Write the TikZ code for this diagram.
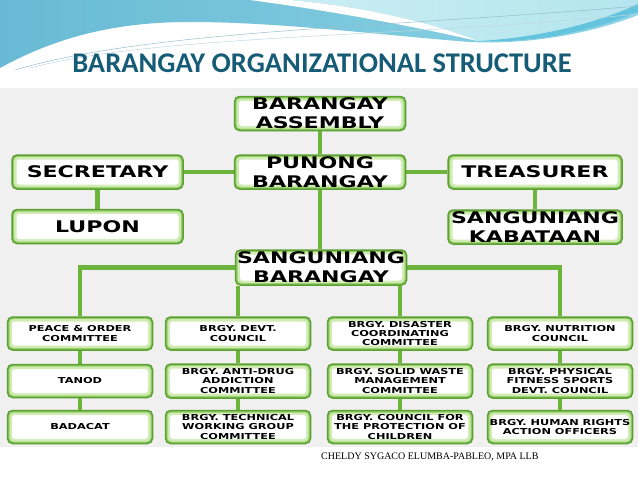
\documentclass[tikz,border=0pt]{standalone}
\usepackage{fontspec}
\newfontfamily\boxfont{DejaVu Sans}[FakeStretch=1.38]
\newfontfamily\titlefont{Carlito}
\newfontfamily\footfont{Liberation Serif}
\definecolor{linegreen}{RGB}{108,180,60}
\definecolor{bordergreen}{RGB}{92,160,50}
\definecolor{glowA}{RGB}{150,205,105}
\definecolor{glowB}{RGB}{208,236,180}
\definecolor{titleblue}{RGB}{22,92,118}
\definecolor{panelgray}{RGB}{240,240,240}
\definecolor{skyblue}{RGB}{104,186,212}
\definecolor{skylight}{RGB}{140,212,230}
\definecolor{skypale}{RGB}{180,229,238}
\definecolor{skymid}{RGB}{100,196,222}
\definecolor{skyline}{RGB}{150,190,205}
\pgfdeclarelayer{bg}
\pgfdeclarelayer{links}
\pgfsetlayers{bg,links,main}
\tikzset{
  box/.style={draw=bordergreen, line width=1.5pt, rounded corners=5pt, fill=glowA,
    inner sep=0pt, align=center, text=black,
    path picture={
      \fill[glowB, rounded corners=4pt]
        ([shift={(2pt,2pt)}]path picture bounding box.south west) rectangle
        ([shift={(-2pt,-2pt)}]path picture bounding box.north east);
      \fill[white, rounded corners=3pt]
        ([shift={(4.5pt,4.5pt)}]path picture bounding box.south west) rectangle
        ([shift={(-4.5pt,-4.5pt)}]path picture bounding box.north east);
    }},
  bigbox/.style={box, minimum width=171pt, minimum height=34pt,
    font=\boxfont\bfseries\fontsize{16}{19}\selectfont},
  smallbox/.style={box, minimum width=145pt, minimum height=33pt,
    font=\boxfont\bfseries\fontsize{8.2}{9.3}\selectfont},
  link/.style={draw=linegreen, line width=4.5pt},
}
\begin{document}
\begin{tikzpicture}[x=1pt,y=-1pt]
\useasboundingbox (0,0) rectangle (638,479);
\begin{pgfonlayer}{bg}
  \fill[white] (0,0) rectangle (638,479);
  \fill[panelgray] (0,88) rectangle (638,447);
  % sky
  \shade[left color=skyblue, right color=skylight]
    (0,0) -- (638,0) -- (638,15) .. controls (600,30) and (540,45) .. (470,42)
    .. controls (380,35) and (280,22) .. (190,22)
    .. controls (120,22) and (60,35) .. (0,68) -- cycle;
  \shade[left color=skypale!70!white, right color=skypale]
    (290,0) .. controls (360,6) and (430,22) .. (478,41)
    .. controls (540,44) and (600,28) .. (638,12) -- (638,0) -- cycle;
  \fill[skymid] (478,41) .. controls (540,44) and (600,28) .. (638,12)
    -- (638,4) .. controls (600,22) and (540,38) .. (478,41) -- cycle;
  \fill[white] (250,0) .. controls (340,12) and (420,28) .. (478,41)
    .. controls (430,22) and (360,6) .. (290,0) -- cycle;
  \draw[skyline, line width=0.5pt] (15,70) .. controls (150,30) and (380,28) .. (638,6);
  \draw[skyline!60!white, line width=0.5pt] (30,68) .. controls (160,34) and (400,38) .. (638,14);
\end{pgfonlayer}

\node[font=\titlefont\bfseries\fontsize{28.5}{32}\selectfont, text=titleblue] (title) at (322,63) {BARANGAY ORGANIZATIONAL STRUCTURE};

\node[bigbox] (asm) at (320,113.5) {BARANGAY\\ASSEMBLY};
\node[bigbox] (pun) at (320,172) {PUNONG\\BARANGAY};
\node[bigbox] (sec) at (97.5,172) {SECRETARY};
\node[bigbox] (lup) at (97.5,226.5) {LUPON};
\node[bigbox, minimum width=174pt] (tre) at (535,172) {TREASURER};
\node[bigbox, minimum width=174pt] (sk) at (535,227) {SANGUNIANG\\KABATAAN};
\node[bigbox, minimum height=35pt] (sb) at (321,267.5) {SANGUNIANG\\BARANGAY};

\node[smallbox] (c1a) at (80,333.5) {PEACE \& ORDER\\COMMITTEE};
\node[smallbox] (c1b) at (80,381) {TANOD};
\node[smallbox] (c1c) at (80,427) {BADACAT};

\node[smallbox] (c2a) at (238,333.5) {BRGY. DEVT.\\COUNCIL};
\node[smallbox, minimum height=34pt] (c2b) at (238,381) {BRGY. ANTI-DRUG\\ADDICTION\\COMMITTEE};
\node[smallbox] (c2c) at (238,427) {BRGY. TECHNICAL\\WORKING GROUP\\COMMITTEE};

\node[smallbox] (c3a) at (400,333.5) {BRGY. DISASTER\\COORDINATING\\COMMITTEE};
\node[smallbox, minimum height=34pt] (c3b) at (400,381) {BRGY. SOLID WASTE\\MANAGEMENT\\COMMITTEE};
\node[smallbox] (c3c) at (400,427) {BRGY. COUNCIL FOR\\THE PROTECTION OF\\CHILDREN};

\node[smallbox] (c4a) at (560,333.5) {BRGY. NUTRITION\\COUNCIL};
\node[smallbox, minimum height=34pt] (c4b) at (560,381) {BRGY. PHYSICAL\\FITNESS SPORTS\\DEVT. COUNCIL};
\node[smallbox] (c4c) at (560,427) {BRGY. HUMAN RIGHTS\\ACTION OFFICERS};

\node[font=\footfont\fontsize{10}{12}\selectfont, anchor=west, inner sep=0pt] (foot) at (321,457) {CHELDY SYGACO ELUMBA-PABLEO, MPA LLB};

\begin{pgfonlayer}{links}
  \draw[link] (asm) -- (pun);
  \draw[link] (pun.south) -- (pun.south |- sb.north);
  \draw[link] (sec) -- (pun);
  \draw[link] (pun) -- (tre);
  \draw[link] (sec) -- (lup);
  \draw[link] (tre) -- (sk);
  \draw[link] (c1a.north) |- (sb.west);
  \draw[link] (c4a.north) |- (sb.east);
  \draw[link] (c2a.north) -- (c2a.north |- sb.south);
  \draw[link] (c3a.north) -- (c3a.north |- sb.south);
  \draw[link] (c1a) -- (c1b);
  \draw[link] (c1b) -- (c1c);
  \draw[link] (c2a) -- (c2b);
  \draw[link] (c2b) -- (c2c);
  \draw[link] (c3a) -- (c3b);
  \draw[link] (c3b) -- (c3c);
  \draw[link] (c4a) -- (c4b);
  \draw[link] (c4b) -- (c4c);
\end{pgfonlayer}
\end{tikzpicture}
\end{document}
